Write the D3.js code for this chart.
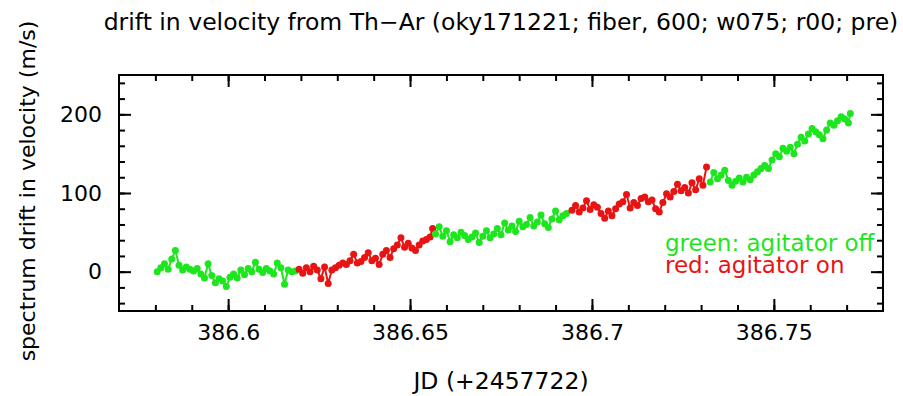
<!DOCTYPE html>
<html>
<head>
<meta charset="utf-8">
<script src="https://cdn.jsdelivr.net/npm/d3@7"></script>
<style>
  body { margin: 0; background: #fff; }
  text { font-family: "DejaVu Sans", sans-serif; }
</style>
</head>
<body>
<div id="plot"></div>
<script>
// drift measurements read off the plot, split by agitator state
// green = agitator off, red = agitator on
let offA_jd = [386.5805,386.5815,386.5825,386.5835,386.5845,386.5855,386.5865,386.5875,386.5885,386.5895,
  386.5905,386.5915,386.5925,386.5935,386.5945,386.5955,386.5965,386.5975,386.5985,386.5995,
  386.6005,386.6015,386.6025,386.6035,386.6045,386.6055,386.6065,386.6075,386.6085,386.6095,
  386.6105,386.6115,386.6125,386.6135,386.6145,386.6155,386.6165,386.6175,386.6185];
let offA_v = [0,5,10,3,16,27,8,2,6,3,
  1,4,-3,-8,10,-5,-14,-9,-12,-19,
  -7,-3,-8,2,-4,4,0,12,3,-1,
  4,1,-3,11,5,-16,2,0,1];

let onA_jd = [386.6195,386.6205,386.6215,386.6225,386.6235,386.6245,386.6255,386.6265,386.6275,386.6285,
  386.6295,386.6305,386.6315,386.6325,386.6335,386.6345,386.6355,386.6365,386.6375,386.6385,
  386.6395,386.6405,386.6415,386.6425,386.6435,386.6445,386.6455,386.6465,386.6475,386.6485,
  386.6495,386.6505,386.6515,386.6525,386.6535,386.6545,386.6555,386.6562];
let onA_v = [3,-2,5,0,7,2,-9,6,-15,2,
  5,8,11,9,14,22,11,13,18,24,
  14,17,9,22,27,18,29,34,43,31,
  36,30,27,34,39,41,44,55];

let offB_jd = [386.6570,386.6580,386.6590,386.6600,386.6610,386.6620,386.6630,386.6640,386.6650,386.6660,
  386.6670,386.6680,386.6690,386.6700,386.6710,386.6720,386.6730,386.6740,386.6750,386.6760,
  386.6770,386.6780,386.6790,386.6800,386.6810,386.6820,386.6830,386.6840,386.6850,386.6860,
  386.6870,386.6880,386.6890,386.6900,386.6910,386.6920,386.6930];
let offB_v = [48,57,45,52,38,47,43,50,46,41,
  44,49,37,45,52,43,48,55,47,62,
  53,58,51,64,57,60,69,58,63,72,
  61,56,67,77,66,71,74];

let onB_jd = [386.6945,386.6955,386.6965,386.6975,386.6985,386.6995,386.7005,386.7015,386.7025,386.7035,
  386.7045,386.7055,386.7065,386.7075,386.7085,386.7095,386.7105,386.7115,386.7125,386.7135,
  386.7145,386.7155,386.7165,386.7175,386.7185,386.7195,386.7205,386.7215,386.7225,386.7235,
  386.7245,386.7255,386.7265,386.7275,386.7285,386.7295,386.7305,386.7315];
let onB_v = [78,84,76,81,90,79,85,82,74,68,
  77,71,80,86,89,98,81,88,84,93,
  95,89,91,80,76,88,99,95,102,111,
  103,107,100,113,104,118,110,133];

let offC_jd = [386.7325,386.7335,386.7345,386.7355,386.7365,386.7375,386.7385,386.7395,386.7405,386.7415,
  386.7425,386.7435,386.7445,386.7455,386.7465,386.7475,386.7485,386.7495,386.7505,386.7515,
  386.7525,386.7535,386.7545,386.7555,386.7565,386.7575,386.7585,386.7595,386.7605,386.7615,
  386.7625,386.7635,386.7645,386.7655,386.7665,386.7675,386.7685,386.7695,386.7705,386.7710];
let offC_v = [114,126,118,123,129,116,110,115,119,114,
  120,117,123,127,131,135,131,142,150,146,
  157,153,158,150,162,171,166,175,182,178,
  174,169,180,189,186,192,197,194,189,201];

let xMajor = [386.6, 386.65, 386.7, 386.75];
let yMajor = [0, 100, 200];

let green = "#1ee61e";
let red = "#e81414";

let segments = [
  { jd: offA_jd, v: offA_v, color: green },
  { jd: onA_jd, v: onA_v, color: red },
  { jd: offB_jd, v: offB_v, color: green },
  { jd: onB_jd, v: onB_v, color: red },
  { jd: offC_jd, v: offC_v, color: green }
];

let svgWidth = 903;
let svgHeight = 396;

// plot frame in pixels
let frameLeft = 119, frameRight = 883, frameTop = 75, frameBottom = 311;

let svg = d3.select("#plot").append("svg")
  .attr("width", svgWidth)
  .attr("height", svgHeight);

let xScale = d3.scaleLinear().domain([386.57, 386.78]).range([frameLeft, frameRight]);
let yScale = d3.scaleLinear().domain([-50, 250]).range([frameBottom, frameTop]);

// minor ticks every 0.01 / 20, major every 0.05 / 100
let xMinor = d3.range(386.58, 386.775, 0.01);
let yMinor = d3.range(-40, 241, 20);

function styleAxis(g) {
  g.select(".domain").remove();
  g.selectAll("line").attr("stroke", "#000").attr("stroke-width", 2);
  g.attr("font-family", null).attr("font-size", null);
}

// bottom
svg.append("g").attr("transform", "translate(0," + frameBottom + ")")
  .call(d3.axisBottom(xScale).tickValues(xMinor).tickSize(-6).tickFormat(""))
  .call(styleAxis);
svg.append("g").attr("transform", "translate(0," + frameBottom + ")")
  .call(d3.axisBottom(xScale).tickValues(xMajor).tickSize(-12).tickPadding(13)
    .tickFormat(d => String(+d.toFixed(2))))
  .call(styleAxis)
  .selectAll("text").attr("font-size", 22).attr("fill", "#000");
// top
svg.append("g").attr("transform", "translate(0," + frameTop + ")")
  .call(d3.axisTop(xScale).tickValues(xMinor).tickSize(-6).tickFormat(""))
  .call(styleAxis);
svg.append("g").attr("transform", "translate(0," + frameTop + ")")
  .call(d3.axisTop(xScale).tickValues(xMajor).tickSize(-12).tickFormat(""))
  .call(styleAxis);
// left
svg.append("g").attr("transform", "translate(" + frameLeft + ",0)")
  .call(d3.axisLeft(yScale).tickValues(yMinor).tickSize(-6).tickFormat(""))
  .call(styleAxis);
svg.append("g").attr("transform", "translate(" + frameLeft + ",0)")
  .call(d3.axisLeft(yScale).tickValues(yMajor).tickSize(-12).tickPadding(17))
  .call(styleAxis)
  .selectAll("text").attr("font-size", 22).attr("fill", "#000");
// right
svg.append("g").attr("transform", "translate(" + frameRight + ",0)")
  .call(d3.axisRight(yScale).tickValues(yMinor).tickSize(-6).tickFormat(""))
  .call(styleAxis);
svg.append("g").attr("transform", "translate(" + frameRight + ",0)")
  .call(d3.axisRight(yScale).tickValues(yMajor).tickSize(-12).tickFormat(""))
  .call(styleAxis);

// frame
svg.append("rect")
  .attr("x", frameLeft).attr("y", frameTop)
  .attr("width", frameRight - frameLeft).attr("height", frameBottom - frameTop)
  .attr("fill", "none").attr("stroke", "#000").attr("stroke-width", 2);

// data
let line = d3.line().x(d => xScale(d[0])).y(d => yScale(d[1]));
segments.forEach(function(s) {
  let pts = s.jd.map((j, i) => [j, s.v[i]]);
  svg.append("path").datum(pts)
    .attr("d", line)
    .attr("fill", "none")
    .attr("stroke", s.color)
    .attr("stroke-width", 2);
  svg.append("g").selectAll("circle").data(pts).enter()
    .append("circle")
    .attr("cx", d => xScale(d[0]))
    .attr("cy", d => yScale(d[1]))
    .attr("r", 3.5)
    .attr("fill", s.color);
});

// legend
svg.append("text").attr("x", 665).attr("y", 251)
  .attr("font-size", 23).attr("fill", green)
  .text("green: agitator off");
svg.append("text").attr("x", 665).attr("y", 273)
  .attr("font-size", 23).attr("fill", red)
  .text("red: agitator on");

// title and axis labels
svg.append("text").attr("x", 501).attr("y", 30)
  .attr("text-anchor", "middle").attr("font-size", 23.5)
  .text("drift in velocity from Th\u2212Ar (oky171221; fiber, 600; w075; r00; pre)");

svg.append("text").attr("x", 501).attr("y", 389)
  .attr("text-anchor", "middle").attr("font-size", 23.5)
  .text("JD (+2457722)");

svg.append("text")
  .attr("transform", "translate(35," + ((frameTop + frameBottom) / 2 - 2) + ")rotate(-90)")
  .attr("text-anchor", "middle").attr("font-size", 22)
  .text("spectrum drift in velocity (m/s)");
</script>
</body>
</html>
